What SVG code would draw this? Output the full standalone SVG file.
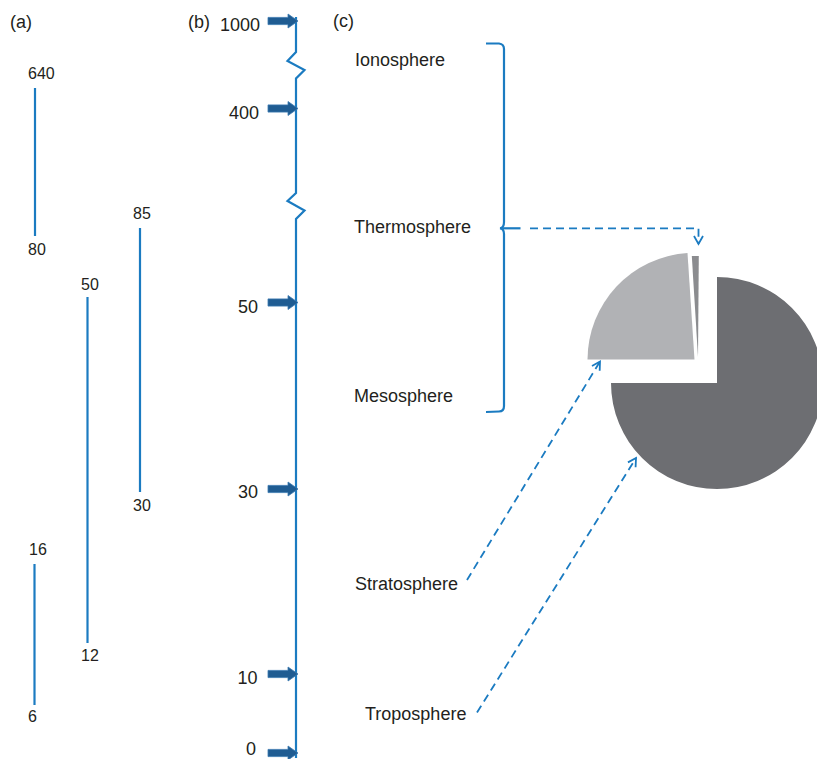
<svg xmlns="http://www.w3.org/2000/svg" width="817" height="759" viewBox="0 0 817 759">
<defs>
<style>
text{font-family:"Liberation Sans",Arial,sans-serif;fill:#231f20}
.lbl{font-size:18px}
.num{font-size:16px}
.big{font-size:18px}
.bl{stroke:#1b7bc1;stroke-width:2.2;fill:none}
.dash{stroke:#1b7bc1;stroke-width:1.8;fill:none;stroke-dasharray:8 5}
.arr{fill:#1f5c92;stroke:#3a79b0;stroke-width:0.8}
</style>
<marker id="open" markerWidth="12" markerHeight="12" refX="9" refY="5" orient="auto" markerUnits="userSpaceOnUse" viewBox="0 0 12 10">
<path d="M1,0.5 L9,5 L1,9.5" fill="none" stroke="#1b7bc1" stroke-width="1.8"/>
</marker>
<path id="bigarrow" d="M0,-3.6 L20,-3.6 L20,-7 L30,0 L20,7 L20,3.6 L0,3.6 Z"/>
</defs>
<rect width="817" height="759" fill="#fff"/>

<!-- Panel (a) -->
<g id="panel-a">
<text class="big" x="10" y="28">(a)</text>
<g id="range-640-80">
<line class="bl" x1="35" y1="88" x2="35" y2="236"/>
<text class="num" x="28" y="79">640</text>
<text class="num" x="28" y="255">80</text>
</g>
<g id="range-50-12">
<line class="bl" x1="87.5" y1="297" x2="87.5" y2="643"/>
<text class="num" x="81" y="290">50</text>
<text class="num" x="81" y="661">12</text>
</g>
<g id="range-85-30">
<line class="bl" x1="140" y1="228" x2="140" y2="492"/>
<text class="num" x="133" y="219">85</text>
<text class="num" x="133" y="511">30</text>
</g>
<g id="range-16-6">
<line class="bl" x1="34.5" y1="564" x2="34.5" y2="705"/>
<text class="num" x="29" y="555">16</text>
<text class="num" x="28" y="722">6</text>
</g>
</g>

<!-- Panel (b) -->
<g id="panel-b">
<text class="big" x="188" y="28">(b)</text>
<g id="axis">
<polyline class="bl" points="296,17 296,52 287.5,61 304.5,70 296,78.5 296,193 287.5,201 304.5,210.5 296,219 296,758"/>
</g>
<g id="tick-1000"><text class="big" x="260" y="31" text-anchor="end">1000</text><use href="#bigarrow" class="arr" x="268" y="21"/></g>
<g id="tick-400"><text class="big" x="259" y="119" text-anchor="end">400</text><use href="#bigarrow" class="arr" x="268" y="108.5"/></g>
<g id="tick-50"><text class="big" x="258" y="313" text-anchor="end">50</text><use href="#bigarrow" class="arr" x="268" y="302.5"/></g>
<g id="tick-30"><text class="big" x="258" y="498" text-anchor="end">30</text><use href="#bigarrow" class="arr" x="268" y="489"/></g>
<g id="tick-10"><text class="big" x="257.5" y="684" text-anchor="end">10</text><use href="#bigarrow" class="arr" x="268" y="674"/></g>
<g id="tick-0"><text class="big" x="256" y="755" text-anchor="end">0</text><use href="#bigarrow" class="arr" x="268" y="753"/></g>
</g>

<!-- Panel (c) -->
<g id="panel-c">
<text class="big" x="333" y="27">(c)</text>
<g id="ionosphere"><text class="lbl" x="355" y="66">Ionosphere</text></g>
<g id="thermosphere"><text class="lbl" x="354" y="233">Thermosphere</text></g>
<g id="mesosphere"><text class="lbl" x="354" y="402">Mesosphere</text></g>
<g id="stratosphere"><text class="lbl" x="355" y="590">Stratosphere</text></g>
<g id="troposphere"><text class="lbl" x="365" y="720">Troposphere</text></g>
<g id="brace">
<path class="bl" d="M486,43.5 L499,43.5 Q504,44 504,49 L504,222 Q504,228 500,228.3 Q504,228.6 504,234 L504,406 Q504,411.5 499,411.5 L486,412"/>
<line class="bl" x1="503" y1="228.3" x2="520.5" y2="228.3"/>
</g>
<g id="pie">
<path id="slice-troposphere" d="M717,383 L717,277 A106,106 0 1 1 611,383 Z" fill="#6d6e72"/>
<path id="slice-stratosphere" d="M694.5,359.5 L587.5,359.5 A107,107 0 0 1 687.5,253 Z" fill="#b1b2b5"/>
<path id="slice-upper" d="M698,357 L691.8,256 A101,101 0 0 1 698.8,256 Z" fill="#8b8c8f"/>
</g>
</g>

<!-- Connectors -->
<g id="connectors">
<polyline class="dash" points="530,228.3 698.5,228.3 698.5,244" marker-end="url(#open)"/>
<line class="dash" x1="467" y1="580" x2="600" y2="361.5" marker-end="url(#open)"/>
<line class="dash" x1="477" y1="712.5" x2="636" y2="458" marker-end="url(#open)"/>
</g>
</svg>
